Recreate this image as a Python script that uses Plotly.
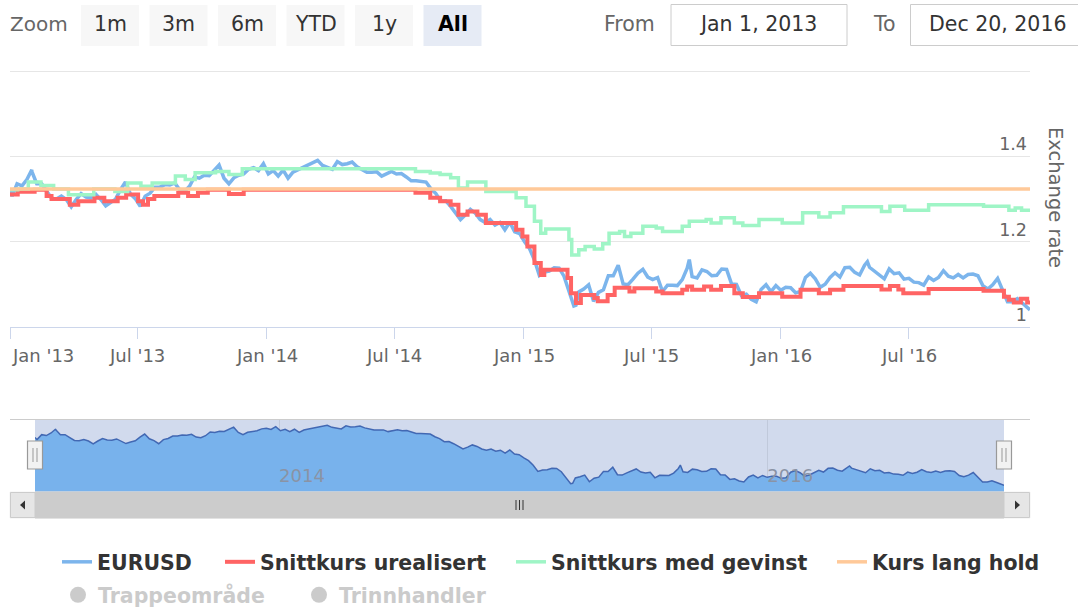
import pandas as pd
import plotly.graph_objects as go

# ---------------- data ----------------
# EURUSD weekly (Fridays) per year
eur_2013 = [1.307, 1.336, 1.331, 1.346, 1.365, 1.336, 1.336, 1.319, 1.302, 1.300, 1.307, 1.299, 1.282,
            1.299, 1.313, 1.305, 1.303, 1.311, 1.299, 1.284, 1.293, 1.300, 1.322, 1.340, 1.312, 1.301,
            1.283, 1.307, 1.314, 1.328, 1.328, 1.334, 1.333, 1.338, 1.322, 1.318, 1.330, 1.352, 1.349,
            1.356, 1.355, 1.368, 1.380, 1.349, 1.336, 1.350, 1.356, 1.359, 1.370, 1.374, 1.367, 1.383]
eur_2014 = [1.359, 1.367, 1.354, 1.368, 1.349, 1.363, 1.369, 1.374, 1.380, 1.387, 1.391, 1.379, 1.375,
            1.370, 1.388, 1.381, 1.383, 1.387, 1.376, 1.370, 1.363, 1.363, 1.364, 1.354, 1.360, 1.365,
            1.359, 1.360, 1.352, 1.343, 1.343, 1.341, 1.340, 1.324, 1.313, 1.295, 1.296, 1.283, 1.268,
            1.252, 1.263, 1.276, 1.267, 1.252, 1.245, 1.252, 1.239, 1.245, 1.228, 1.246, 1.223, 1.219]
eur_2015 = [1.200, 1.184, 1.157, 1.121, 1.129, 1.131, 1.139, 1.138, 1.119, 1.084, 1.049, 1.082, 1.089,
            1.099, 1.060, 1.081, 1.087, 1.120, 1.120, 1.145, 1.101, 1.099, 1.112, 1.126, 1.135, 1.117,
            1.111, 1.116, 1.083, 1.098, 1.098, 1.097, 1.111, 1.138, 1.118, 1.115, 1.134, 1.130, 1.120,
            1.121, 1.136, 1.135, 1.101, 1.100, 1.074, 1.077, 1.065, 1.059, 1.088, 1.099, 1.083, 1.097]
eur_2016 = [1.086, 1.093, 1.092, 1.080, 1.083, 1.116, 1.126, 1.113, 1.093, 1.100, 1.116, 1.127, 1.117,
            1.139, 1.140, 1.128, 1.122, 1.145, 1.140, 1.131, 1.122, 1.113, 1.136, 1.125, 1.127, 1.112,
            1.114, 1.105, 1.104, 1.098, 1.117, 1.109, 1.116, 1.132, 1.119, 1.115, 1.123, 1.115, 1.123,
            1.124, 1.120, 1.097, 1.089, 1.099, 1.114, 1.086, 1.059, 1.059, 1.066, 1.056, 1.045]
eur_year_starts = ["2013-01-04", "2014-01-03", "2015-01-02", "2016-01-01"]
# extra daily points (start, end and visible spikes)
eur_extra_dates = ["2013-01-01", "2013-02-01", "2015-03-16", "2015-08-24", "2016-05-03", "2016-12-20"]
eur_extra_values = [1.320, 1.369, 1.051, 1.158, 1.153, 1.040]

# Snittkurs urealisert (step line)
red_dates = ["2013-01-01", "2013-01-12", "2013-02-05", "2013-02-22", "2013-03-01", "2013-03-27",
             "2013-04-08", "2013-05-01", "2013-05-15", "2013-06-03", "2013-06-15", "2013-07-02",
             "2013-07-09", "2013-07-16", "2013-07-25", "2013-08-28", "2013-09-11", "2013-09-25",
             "2013-10-09", "2013-11-08", "2013-11-29", "2014-07-31", "2014-08-21", "2014-09-04",
             "2014-09-19", "2014-09-30", "2014-10-13", "2014-10-27", "2014-11-08", "2014-12-21",
             "2014-12-30", "2015-01-06", "2015-01-16", "2015-01-25", "2015-01-30", "2015-03-04",
             "2015-03-09", "2015-03-16", "2015-03-23", "2015-04-11", "2015-04-16", "2015-04-30",
             "2015-05-10", "2015-05-31", "2015-06-07", "2015-07-08", "2015-07-17", "2015-08-14",
             "2015-08-21", "2015-08-28", "2015-09-14", "2015-09-24", "2015-10-08", "2015-10-27",
             "2015-11-08", "2015-12-01", "2016-01-03", "2016-01-29", "2016-02-24", "2016-03-11",
             "2016-03-30", "2016-05-23", "2016-06-04", "2016-06-16", "2016-06-23", "2016-07-29",
             "2016-10-15", "2016-11-13", "2016-11-20", "2016-11-27", "2016-12-07", "2016-12-16",
             "2016-12-20"]
red_values = [1.311, 1.317, 1.322, 1.307, 1.300, 1.287,
              1.295, 1.303, 1.295, 1.303, 1.311, 1.295,
              1.287, 1.300, 1.307, 1.315, 1.307, 1.315,
              1.322, 1.312, 1.322, 1.315, 1.303, 1.295,
              1.287, 1.263, 1.271, 1.263, 1.244, 1.228,
              1.212, 1.189, 1.150, 1.122, 1.134, 1.115,
              1.079, 1.056, 1.075, 1.068, 1.060, 1.075,
              1.092, 1.083, 1.091, 1.083, 1.079, 1.087,
              1.095, 1.087, 1.095, 1.087, 1.096, 1.079,
              1.070, 1.079, 1.071, 1.087, 1.079, 1.087,
              1.096, 1.088, 1.096, 1.088, 1.079, 1.089,
              1.085, 1.071, 1.064, 1.057, 1.066, 1.057,
              1.057]

# Snittkurs med gevinst (step line)
green_dates = ["2013-01-01", "2013-01-12", "2013-01-27", "2013-02-14", "2013-03-04", "2013-03-25",
               "2013-04-30", "2013-05-30", "2013-06-17", "2013-07-06", "2013-07-22", "2013-08-24",
               "2013-09-07", "2013-09-21", "2013-10-20", "2013-11-08", "2013-11-27", "2014-07-31",
               "2014-08-21", "2014-09-04", "2014-09-19", "2014-09-30", "2014-10-13", "2014-11-08",
               "2014-12-21", "2015-01-04", "2015-01-16", "2015-01-25", "2015-02-01", "2015-03-06",
               "2015-03-10", "2015-03-20", "2015-03-29", "2015-04-11", "2015-04-23", "2015-05-02",
               "2015-05-17", "2015-05-24", "2015-06-02", "2015-06-19", "2015-07-08", "2015-07-17",
               "2015-08-14", "2015-08-24", "2015-09-17", "2015-09-24", "2015-10-08", "2015-10-27",
               "2015-11-08", "2015-12-01", "2016-01-03", "2016-02-01", "2016-02-24", "2016-03-11",
               "2016-03-30", "2016-05-23", "2016-06-04", "2016-06-25", "2016-07-29", "2016-10-15",
               "2016-11-20", "2016-11-29", "2016-12-08", "2016-12-20"]
green_values = [1.322, 1.324, 1.340, 1.332, 1.324, 1.310,
                1.324, 1.318, 1.338, 1.330, 1.338, 1.354,
                1.346, 1.362, 1.365, 1.358, 1.371, 1.365,
                1.361, 1.358, 1.350, 1.326, 1.340, 1.318,
                1.303, 1.283, 1.248, 1.220, 1.230, 1.205,
                1.169, 1.181, 1.189, 1.183, 1.195, 1.220,
                1.224, 1.212, 1.220, 1.236, 1.232, 1.224,
                1.236, 1.248, 1.252, 1.244, 1.256, 1.244,
                1.238, 1.252, 1.244, 1.268, 1.258, 1.268,
                1.282, 1.271, 1.283, 1.274, 1.287, 1.283,
                1.274, 1.279, 1.274, 1.274]

# Kurs lang hold (constant)
orange_dates = ["2013-01-01", "2016-12-20"]
orange_values = [1.324, 1.324]

# hidden series (legend only, no visible data in the picture)
trapp_dates, trapp_values = [None], [None]
trinn_dates, trinn_values = [None], [None]

xtick_dates = ["2013-01-01", "2013-07-01", "2014-01-01", "2014-07-01",
               "2015-01-01", "2015-07-01", "2016-01-01", "2016-07-01"]
xtick_labels = ["Jan '13", "Jul '13", "Jan '14", "Jul '14", "Jan '15", "Jul '15", "Jan '16", "Jul '16"]
ytick_vals = [1.0, 1.2, 1.4, 1.6]
ytick_text = ["1", "1.2", "1.4", ""]
nav_tick_dates = ["2014-01-01", "2016-01-01"]
nav_tick_labels = ["2014", "2016"]
zoom_buttons = ["1m", "3m", "6m", "YTD", "1y", "All"]
date_from, date_to = "Jan 1, 2013", "Dec 20, 2016"
x_start, x_end = "2013-01-01", "2016-12-20"

# ---------------- build series ----------------
parts = []
for start, vals in zip(eur_year_starts, [eur_2013, eur_2014, eur_2015, eur_2016]):
    parts.append(pd.Series(vals, index=pd.date_range(start, periods=len(vals), freq="7D")))
parts.append(pd.Series(eur_extra_values, index=pd.to_datetime(eur_extra_dates)))
eurusd = pd.concat(parts).sort_index()

W, H = 1078, 607
def px(x):
    return x / W
def py(y):
    return 1 - y / H

FONT = "DejaVu Sans"
BLUE, RED, GREEN, ORANGE = "#7cb5ec", "#ff6464", "#9ff5c6", "#ffc999"

fig = go.Figure()
fig.add_trace(go.Scatter(x=eurusd.index, y=eurusd.values, name="EURUSD", mode="lines",
                         line=dict(color=BLUE, width=3.5), legend="legend"))
fig.add_trace(go.Scatter(x=pd.to_datetime(red_dates), y=red_values, name="Snittkurs urealisert",
                         mode="lines", line=dict(color=RED, width=4, shape="hv"), legend="legend2"))
fig.add_trace(go.Scatter(x=pd.to_datetime(green_dates), y=green_values, name="Snittkurs med gevinst",
                         mode="lines", line=dict(color=GREEN, width=3.5, shape="hv"), legend="legend3"))
fig.add_trace(go.Scatter(x=pd.to_datetime(orange_dates), y=orange_values, name="Kurs lang hold",
                         mode="lines", line=dict(color=ORANGE, width=3.5), legend="legend4"))
fig.add_trace(go.Scatter(x=trapp_dates, y=trapp_values, name="Trappeområde", mode="markers",
                         marker=dict(color="#999999", size=16), visible="legendonly", legend="legend5",
                         showlegend=True))
fig.add_trace(go.Scatter(x=trinn_dates, y=trinn_values, name="Trinnhandler", mode="markers",
                         marker=dict(color="#999999", size=16), visible="legendonly", legend="legend6",
                         showlegend=True))
# navigator series
fig.add_trace(go.Scatter(x=eurusd.index, y=eurusd.values, mode="lines", fill="tozeroy",
                         fillcolor="rgb(120,178,236)", line=dict(color="#4268b3", width=1.5),
                         xaxis="x2", yaxis="y2", showlegend=False))

shapes = []
annotations = []

# navigator mask background
shapes.append(dict(type="rect", xref="x2 domain", yref="y2 domain", x0=0, x1=1, y0=0, y1=1,
                   fillcolor="#d1daed", line=dict(width=0), layer="below"))
# navigator outline
shapes.append(dict(type="line", xref="paper", yref="paper", x0=px(10), x1=px(1030), y0=py(419.5), y1=py(419.5),
                   line=dict(color="#cccccc", width=1)))
# scrollbar
shapes.append(dict(type="rect", xref="paper", yref="paper", x0=px(10), x1=px(1030), y0=py(518), y1=py(492),
                   fillcolor="#f2f2f2", line=dict(color="#f2f2f2", width=1)))
shapes.append(dict(type="rect", xref="paper", yref="paper", x0=px(35), x1=px(1004), y0=py(518), y1=py(492),
                   fillcolor="#cccccc", line=dict(color="#cccccc", width=1)))
for bx0, bx1 in [(10.5, 35), (1004, 1029.5)]:
    shapes.append(dict(type="rect", xref="paper", yref="paper", x0=px(bx0), x1=px(bx1), y0=py(517.5), y1=py(492.5),
                       fillcolor="#e6e6e6", line=dict(color="#cccccc", width=1)))
shapes.append(dict(type="path", xref="paper", yref="paper",
                   path=f"M {px(20)} {py(505)} L {px(25)} {py(500.5)} L {px(25)} {py(509.5)} Z",
                   fillcolor="#333333", line=dict(width=0)))
shapes.append(dict(type="path", xref="paper", yref="paper",
                   path=f"M {px(1020)} {py(505)} L {px(1015)} {py(500.5)} L {px(1015)} {py(509.5)} Z",
                   fillcolor="#333333", line=dict(width=0)))
for gx in [516, 519.5, 523]:
    shapes.append(dict(type="line", xref="paper", yref="paper", x0=px(gx), x1=px(gx), y0=py(500), y1=py(510),
                       line=dict(color="#333333", width=1)))
# navigator handles
for hx in [35, 1004]:
    shapes.append(dict(type="rect", xref="paper", yref="paper", x0=px(hx - 7.5), x1=px(hx + 7.5),
                       y0=py(469), y1=py(441), fillcolor="#f2f2f2", line=dict(color="#999999", width=1.2)))
    for lx in [hx - 2, hx + 2]:
        shapes.append(dict(type="line", xref="paper", yref="paper", x0=px(lx), x1=px(lx), y0=py(448), y1=py(462),
                           line=dict(color="#999999", width=1)))

# range selector
annotations.append(dict(text="Zoom", xref="paper", yref="paper", x=px(39), y=py(24), showarrow=False,
                        xanchor="center", yanchor="middle", font=dict(family=FONT, size=20, color="#666666")))
for i, lab in enumerate(zoom_buttons):
    x0 = 81 + 68.5 * i
    x1 = x0 + 58
    selected = lab == "All"
    shapes.append(dict(type="rect", xref="paper", yref="paper", x0=px(x0), x1=px(x1), y0=py(46), y1=py(5),
                       fillcolor="#e6ebf5" if selected else "#f7f7f7", line=dict(width=0), layer="below"))
    annotations.append(dict(text=lab, xref="paper", yref="paper", x=px((x0 + x1) / 2), y=py(24), showarrow=False,
                            xanchor="center", yanchor="middle",
                            font=dict(family=FONT, size=20.5, color="#000000" if selected else "#333333",
                                      weight="bold" if selected else "normal")))
annotations.append(dict(text="From", xref="paper", yref="paper", x=px(629), y=py(24), showarrow=False,
                        xanchor="center", yanchor="middle", font=dict(family=FONT, size=20.5, color="#666666")))
annotations.append(dict(text="To", xref="paper", yref="paper", x=px(884), y=py(24), showarrow=False,
                        xanchor="center", yanchor="middle", font=dict(family=FONT, size=20.5, color="#666666")))
for bx0, bx1, txt in [(671, 847, date_from), (910.5, 1090, date_to)]:
    shapes.append(dict(type="rect", xref="paper", yref="paper", x0=px(bx0), x1=px(bx1), y0=py(45.5), y1=py(4.5),
                       fillcolor="#ffffff", line=dict(color="#cccccc", width=1), layer="below"))
    annotations.append(dict(text=txt, xref="paper", yref="paper", x=px((bx0 + min(bx1, 1086)) / 2 - 1), y=py(24),
                            showarrow=False, xanchor="center", yanchor="middle",
                            font=dict(family=FONT, size=20.5, color="#333333")))

# x tick labels of the main chart
for i, (d, lab) in enumerate(zip(xtick_dates, xtick_labels)):
    annotations.append(dict(text=lab, xref="x", yref="paper", x=d, y=py(355), showarrow=False,
                            xanchor="left" if i == 0 else "center", yanchor="middle",
                            font=dict(family=FONT, size=18, color="#666666")))
# y axis title
annotations.append(dict(text="Exchange rate", xref="paper", yref="paper", x=px(1056), y=py(197), showarrow=False,
                        textangle=90, xanchor="center", yanchor="middle",
                        font=dict(family=FONT, size=19.5, color="#666666")))

legend_font = dict(family=FONT, size=20.5, color="#333333", weight="bold")
hidden_font = dict(family=FONT, size=20.5, color="#999999", weight="bold")
legend_pos = {"legend": (97, 562), "legend2": (260, 562), "legend3": (551, 562), "legend4": (872, 562),
              "legend5": (98, 595), "legend6": (339, 595)}
legends = {}
for key, (tx, ty) in legend_pos.items():
    legends[key] = dict(x=px(tx - 40), xanchor="left", y=py(ty), yanchor="middle", orientation="h",
                        bgcolor="rgba(0,0,0,0)", borderwidth=0, itemwidth=30, visible=True,
                        font=hidden_font if key in ("legend5", "legend6") else legend_font)

# main y axis: 426 px per unit, 1.0 at pixel 326.9
Y_TOP = 1.61
y_dom_top_px = 326.9 - (Y_TOP - 1.0) * 426

fig.update_layout(
    width=W, height=H, margin=dict(l=0, r=0, t=0, b=0, pad=0, autoexpand=False),
    paper_bgcolor="white", plot_bgcolor="white",
    font=dict(family=FONT, color="#333333"),
    hovermode=False, showlegend=True,
    xaxis=dict(domain=[px(10), px(1030)], range=[x_start, x_end], type="date", anchor="y",
               tickvals=xtick_dates, showticklabels=False, ticks="outside", ticklen=11,
               tickcolor="#ccd6eb", showline=True, linecolor="#ccd6eb", linewidth=1,
               showgrid=False, zeroline=False, fixedrange=True),
    yaxis=dict(domain=[py(326.9), py(y_dom_top_px)], range=[1.0, Y_TOP], side="right", anchor="x",
               tickvals=ytick_vals, ticktext=ytick_text, ticklabelposition="inside top",
               showgrid=True, gridcolor="#e6e6e6", gridwidth=1, zeroline=False, showline=False,
               ticks="", tickfont=dict(family=FONT, size=17.5, color="#666666"), fixedrange=True),
    xaxis2=dict(domain=[px(35), px(1004)], range=[x_start, x_end], type="date", anchor="y2",
                tickvals=nav_tick_dates, ticktext=nav_tick_labels, ticklabelposition="inside right",
                ticks="", showgrid=True, gridcolor="rgb(192,201,219)", gridwidth=1, showline=False,
                zeroline=False, tickfont=dict(family=FONT, size=18, color="#8a93a5"), fixedrange=True),
    yaxis2=dict(domain=[py(492), py(419.5)], range=[1.0, 1.425], anchor="x2", visible=False, fixedrange=True),
    shapes=shapes, annotations=annotations,
    **legends,
)

fig.write_html("out.html", config={"displayModeBar": False},
               post_script="document.body.style.margin='0px';")
